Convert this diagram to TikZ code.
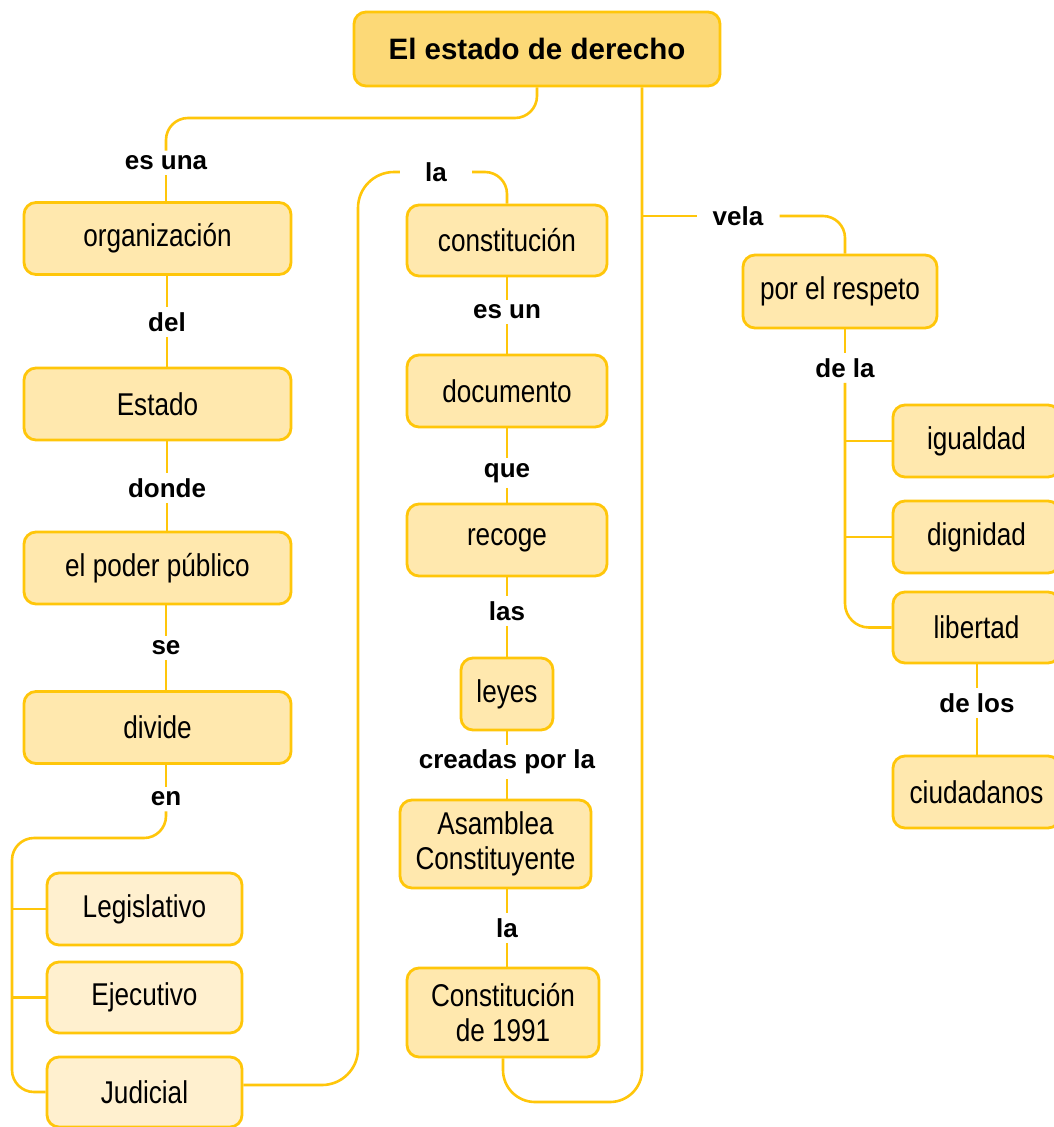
\documentclass[tikz,border=0pt]{standalone}
\usepackage{fontspec}
\setmainfont{Liberation Sans}
\newfontfamily\cond[FakeStretch=0.83]{Liberation Sans}
\definecolor{gold}{HTML}{FFC60A}
\definecolor{boxfill}{HTML}{FFE8AE}
\definecolor{lightfill}{HTML}{FFF0CF}
\definecolor{titlefill}{HTML}{FCD977}
\tikzset{
  box/.style={draw=gold, line width=2.8pt, fill=boxfill, rounded corners=12pt, inner sep=0pt,
    align=center, font=\cond\fontsize{31.5}{35}\selectfont, minimum height=72pt},
  lbox/.style={box, fill=lightfill},
  lbl/.style={font=\bfseries\fontsize{26}{30}\selectfont, inner sep=5pt},
  conn/.style={draw=gold, line width=2.6pt},
}
\begin{document}
\begin{tikzpicture}[x=1pt,y=-1pt]
\fill[white] (0,0) rectangle (1054,1127);
\useasboundingbox (0,0) rectangle (1054,1127);

% title
\node[box, fill=titlefill, font=\bfseries\fontsize{29.5}{34}\selectfont, minimum width=366pt, minimum height=74pt] (title) at (537,49) {El estado de derecho};

% left column
\node[box, minimum width=267pt] (org) at (157.5,238.5) {organización};
\node[box, minimum width=267pt] (estado) at (157.5,404) {Estado};
\node[box, minimum width=267pt] (poder) at (157.5,568) {el poder público};
\node[box, minimum width=267pt] (divide) at (157.5,727.5) {divide};
\node[lbox, minimum width=195pt] (legis) at (144.5,909) {Legislativo};
\node[lbox, minimum width=195pt, minimum height=71pt] (ejec) at (144.5,997.5) {Ejecutivo};
\node[lbox, minimum width=195pt, minimum height=70pt] (judicial) at (144.5,1092) {Judicial};

\node[lbl] (esuna) at (166,163) {es una};
\node[lbl] (del) at (167,322) {del};
\node[lbl] (donde) at (167,488) {donde};
\node[lbl] (se) at (166,648) {se};
\node[lbl] (en) at (166,799) {en};

% middle column
\node[box, minimum width=200pt, minimum height=71pt] (constitucion) at (507,240.5) {constitución};
\node[box, minimum width=200pt] (documento) at (507,391) {documento};
\node[box, minimum width=200pt] (recoge) at (507,540) {recoge};
\node[box, minimum width=92pt] (leyes) at (507,694) {leyes};
\node[box, minimum width=191pt, minimum height=88pt] (asamblea) at (495.5,844) {Asamblea\\Constituyente};
\node[box, minimum width=192pt, minimum height=89pt] (c1991) at (503,1012.5) {Constitución\\de 1991};

\node[lbl, inner xsep=25pt] (la1) at (436,172) {la};
\node[lbl] (esun) at (507,312) {es un};
\node[lbl] (que) at (507,473) {que};
\node[lbl] (las) at (507,611) {las};
\node[lbl] (creadas) at (507,762) {creadas por la};
\node[lbl] (la2) at (507,928) {la};

% right column
\node[box, minimum width=194pt, minimum height=73pt] (respeto) at (840,291.5) {por el respeto};
\node[box, minimum width=167pt] (igualdad) at (976.5,441) {igualdad};
\node[box, minimum width=167pt] (dignidad) at (976.5,537) {dignidad};
\node[box, minimum width=167pt, minimum height=71pt] (libertad) at (976.5,627.5) {libertad};
\node[box, minimum width=167pt] (ciudadanos) at (976.5,792) {ciudadanos};

\node[lbl, inner xsep=16pt] (vela) at (738,216) {vela};
\node[lbl] (dela) at (845,368) {de la};
\node[lbl] (delos) at (977,703) {de los};

% coordinates
\coordinate (t1) at (537,118);
\coordinate (t3) at (642,1102);
\coordinate (vj) at (642,216);
\coordinate (jc) at (358,172);
\coordinate (e1) at (166,838);
\coordinate (e2) at (12,838);

% connectors from title
\draw[conn, rounded corners=22pt] (title.south) -- (t1) -| (esuna.north);
\draw[conn, rounded corners=32pt] (title.south -| t3) -- (t3) -| (c1991.south);
\draw[conn] (vj) -- (vela);
\draw[conn, rounded corners=22pt] (vela.east) -| ([xshift=5pt]respeto.north);

% left column
\draw[conn] (esuna.south) -- (org.north -| esuna);
\draw[conn] (org.south -| del) -- (del);
\draw[conn] (del) -- (estado.north -| del);
\draw[conn] (estado.south -| donde) -- (donde);
\draw[conn] (donde) -- (poder.north -| donde);
\draw[conn] (poder.south -| se) -- (se);
\draw[conn] (se) -- (divide.north -| se);
\draw[conn] (divide.south -| en) -- (en);
\draw[conn, rounded corners=22pt] (en.south) -- (e1) -- (e2) -- (judicial.west -| e2) -- (judicial.west);
\draw[conn] (legis.west -| e2) -- (legis.west);
\draw[conn] (ejec.west -| e2) -- (ejec.west);

% judicial to la
\draw[conn, rounded corners=36pt] ([yshift=7pt]judicial.east) -| (jc) -- (la1.west);
\draw[conn, rounded corners=22pt] (la1.east) -| (constitucion.north);

% middle column
\draw[conn] (constitucion.south) -- (esun);
\draw[conn] (esun) -- (documento.north);
\draw[conn] (documento.south) -- (que);
\draw[conn] (que) -- (recoge.north);
\draw[conn] (recoge.south) -- (las);
\draw[conn] (las) -- (leyes.north);
\draw[conn] (leyes.south) -- (creadas);
\draw[conn] (creadas) -- (asamblea.north -| creadas);
\draw[conn] (asamblea.south -| la2) -- (la2);
\draw[conn] (la2) -- (c1991.north -| la2);

% right column
\draw[conn] (respeto.south -| dela) -- (dela);
\draw[conn, rounded corners=24pt] (dela) -- (libertad.west -| dela) -- (libertad.west);
\draw[conn] (igualdad.west -| dela) -- (igualdad.west);
\draw[conn] (dignidad.west -| dela) -- (dignidad.west);
\draw[conn] (libertad.south -| delos) -- (delos);
\draw[conn] (delos) -- (ciudadanos.north -| delos);
\end{tikzpicture}
\end{document}
